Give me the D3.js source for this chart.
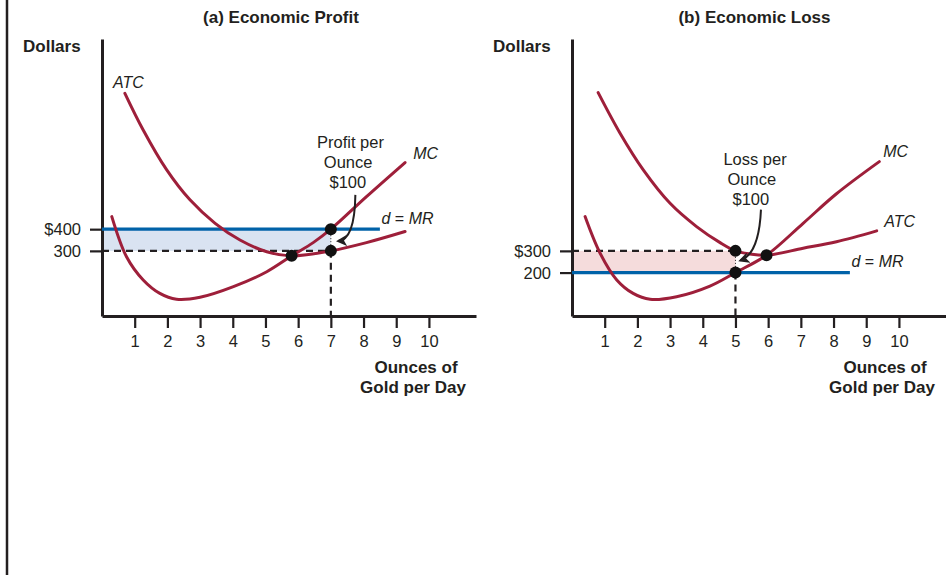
<!DOCTYPE html>
<html><head><meta charset="utf-8">
<script src="https://cdn.jsdelivr.net/npm/d3@7"></script>
<style>
body{margin:0;background:#fff}
svg{display:block}
text{font-family:"Liberation Sans",Arial,Helvetica,sans-serif;fill:#231f20}
</style>
</head><body>
<svg id="chart" width="946" height="584"></svg>
<script>
// ---------- data ----------
const titles = ["(a) Economic Profit", "(b) Economic Loss"];
const qTicks = [1, 2, 3, 4, 5, 6, 7, 8, 9, 10];
const yTicksA = [400, 300];
const yLabelsA = ["$400", "300"];
const yTicksB = [300, 200];
const yLabelsB = ["$300", "200"];
const priceA = 400;
const priceB = 200;
const mrEnd = 8.5;
const qStarA = 7, atcAtQA = 300;
const qStarB = 5, atcAtQB = 300;
// ATC / MC curves: [quantity, dollars]
const atcA = [[0.70,1026],[1.26,857],[1.98,673],[2.69,535],[3.46,427],[4.22,350],[5.04,296],[5.80,277],[7.0,300],[8.09,338],[9.27,389]];
const mcA  = [[0.30,458],[0.75,273],[1.26,166],[1.77,104],[2.28,77],[3.0,86],[4.02,135],[5.04,204],[5.80,277],[6.46,338],[7.0,400],[8.09,550],[9.27,707]];
const atcB = [[0.80,1029],[1.47,842],[2.18,673],[3.0,519],[3.81,412],[4.53,338],[5.0,300],[5.44,286],[5.95,280],[7.07,312],[8.09,342],[9.32,392]];
const mcB  = [[0.40,458],[0.86,289],[1.37,166],[1.87,104],[2.39,77],[3.2,89],[4.22,138],[5.0,200],[5.95,280],[7.07,427],[8.09,563],[9.40,711]];
const dotsA = [[5.80,277],[7,400],[7,300]];
const dotsB = [[5,300],[5,200],[5.95,280]];
const noteA = ["Profit per", "Ounce", "$100"];
const noteB = ["Loss per", "Ounce", "$100"];

// ---------- style ----------
const RED = "#9e1f3a", BLUE = "#0062a8", INK = "#231f20";
const SHADE_A = "#d9e3f1", SHADE_B = "#f5dcdc";
const FS = 16.5;

const svg = d3.select("#chart");

// page frame line on the left
svg.append("line").attr("x1",7).attr("x2",7).attr("y1",0).attr("y2",575)
  .attr("stroke",INK).attr("stroke-width",2.5);

const y = d3.scaleLinear().domain([0, 1276]).range([316, 39]);

const defs = svg.append("defs");
defs.append("marker").attr("id","ah").attr("viewBox","0 0 10 10")
  .attr("refX",8).attr("refY",5).attr("markerWidth",11).attr("markerHeight",11)
  .attr("markerUnits","userSpaceOnUse").attr("orient","auto")
  .append("path").attr("d","M0,0 L10,5 L0,10 L2.5,5 Z").attr("fill",INK);

function panel(cfg) {
  const x = d3.scaleLinear().domain([0, 11.44]).range([cfg.x0, cfg.x0 + 374]);
  const g = svg.append("g");

  // shaded rectangle
  g.append("rect")
    .attr("x", x(0)).attr("width", x(cfg.qStar) - x(0))
    .attr("y", y(cfg.top)).attr("height", y(cfg.bottom) - y(cfg.top))
    .attr("fill", cfg.shade);

  // title & axis labels
  g.append("text").attr("x", cfg.titleX).attr("y", 22.5).attr("text-anchor","middle")
    .attr("font-size",17).attr("font-weight","bold").text(cfg.title);
  g.append("text").attr("x", x(0) - 79).attr("y", 52.3)
    .attr("font-size",17).attr("font-weight","bold").text("Dollars");
  const xl = g.append("text").attr("text-anchor","middle").attr("font-size",17).attr("font-weight","bold");
  xl.append("tspan").attr("x", cfg.xLabelX).attr("y", 373).text("Ounces of");
  xl.append("tspan").attr("x", cfg.xLabelX - 3).attr("y", 393).text("Gold per Day");

  // axes
  const ax = g.append("g").attr("transform", `translate(0,${y(0)})`)
    .call(d3.axisBottom(x).tickValues(qTicks).tickSizeInner(12).tickSizeOuter(0).tickFormat(d3.format("d")));
  ax.selectAll("text").attr("y", 31).attr("dy", 0).attr("font-size", FS).attr("fill", INK);
  ax.selectAll("line").attr("stroke", INK).attr("stroke-width", 2.2);
  ax.select(".domain").attr("stroke", INK).attr("stroke-width", 3);
  ax.attr("font-family", null);

  const ay = g.append("g").attr("transform", `translate(${x(0)},0)`)
    .call(d3.axisLeft(y).tickValues(cfg.yTicks).tickSizeInner(12).tickSizeOuter(0).tickPadding(9)
      .tickFormat((d, i) => cfg.yLabels[i]));
  ay.selectAll("text").attr("font-size", FS).attr("fill", INK).attr("dy", "0.34em");
  ay.selectAll("line").attr("stroke", INK).attr("stroke-width", 2.2);
  ay.select(".domain").attr("stroke", INK).attr("stroke-width", 3);
  ay.attr("font-family", null);

  // dashed guides
  const dash = g.append("g").attr("stroke", INK).attr("stroke-width", 2.2).attr("stroke-dasharray","7,5").attr("fill","none");
  dash.append("line").attr("x1", x(0)).attr("x2", x(cfg.qStar)).attr("y1", y(cfg.hLine)).attr("y2", y(cfg.hLine));
  dash.append("line").attr("x1", x(cfg.qStar)).attr("x2", x(cfg.qStar)).attr("y1", y(cfg.bottom)).attr("y2", y(0));
  g.append("line").attr("x1", x(cfg.qStar)).attr("x2", x(cfg.qStar)).attr("y1", y(cfg.top)).attr("y2", y(cfg.bottom))
    .attr("stroke", INK).attr("stroke-width", 1).attr("stroke-dasharray","1,2");

  // MR line
  g.append("line").attr("x1", x(0)).attr("x2", x(mrEnd)).attr("y1", y(cfg.price)).attr("y2", y(cfg.price))
    .attr("stroke", BLUE).attr("stroke-width", 3.4);

  // curves
  const line = d3.line().x(d => x(d[0])).y(d => y(d[1])).curve(d3.curveCatmullRom.alpha(0.5));
  [cfg.atc, cfg.mc].forEach(s => g.append("path").attr("d", line(s)).attr("fill","none")
    .attr("stroke", RED).attr("stroke-width", 3).attr("stroke-linecap","round"));

  // dots
  g.selectAll("circle.d").data(cfg.dots).join("circle")
    .attr("cx", d => x(d[0])).attr("cy", d => y(d[1])).attr("r", 6).attr("fill", "#111");

  // curve labels
  cfg.labels.forEach(l => {
    const t = g.append("text").attr("x", x(l.q)).attr("y", y(l.v)).attr("font-size", 16).attr("font-style","italic");
    if (l.parts) {
      t.append("tspan").text("d");
      t.append("tspan").attr("font-style","normal").text(" = ");
      t.append("tspan").text("MR");
    } else t.text(l.t);
  });

  // note text
  const nt = g.append("text").attr("text-anchor","middle").attr("font-size", FS);
  cfg.note.forEach((s, i) => nt.append("tspan").attr("x", x(cfg.noteQ[i])).attr("y", y(cfg.noteV) + i * 20).text(s));

  // arrow
  const a = cfg.arrow;
  const p = d3.path();
  p.moveTo(x(a[0][0]), y(a[0][1]));
  p.quadraticCurveTo(x(a[1][0]), y(a[1][1]), x(a[2][0]), y(a[2][1]));
  g.append("path").attr("d", p.toString()).attr("fill","none").attr("stroke", INK)
    .attr("stroke-width", 2).attr("marker-end","url(#ah)");
}

panel({
  x0: 102, title: titles[0], titleX: 281, xLabelX: 416,
  yTicks: yTicksA, yLabels: yLabelsA, price: priceA,
  qStar: qStarA, top: priceA, bottom: atcAtQA, hLine: atcAtQA, shade: SHADE_A,
  atc: atcA, mc: mcA, dots: dotsA,
  labels: [{q:0.34, v:1049, t:"ATC"}, {q:9.52, v:725, t:"MC"}, {q:8.55, v:423, parts:true}],
  note: noteA, noteQ: [7.6, 7.53, 7.52], noteV: 773,
  arrow: [[7.75, 558], [7.73, 350], [7.22, 345]]
});

panel({
  x0: 572, title: titles[1], titleX: 754.5, xLabelX: 885,
  yTicks: yTicksB, yLabels: yLabelsB, price: priceB,
  qStar: qStarB, top: atcAtQB, bottom: priceB, hLine: atcAtQB, shade: SHADE_B,
  atc: atcB, mc: mcB, dots: dotsB,
  labels: [{q:9.52, v:733, t:"MC"}, {q:9.55, v:408, t:"ATC"}, {q:8.55, v:226, parts:true}],
  note: noteB, noteQ: [5.6, 5.5, 5.47], noteV: 696,
  arrow: [[5.78, 490], [5.72, 285], [5.15, 256]]
});
</script>
</body></html>
